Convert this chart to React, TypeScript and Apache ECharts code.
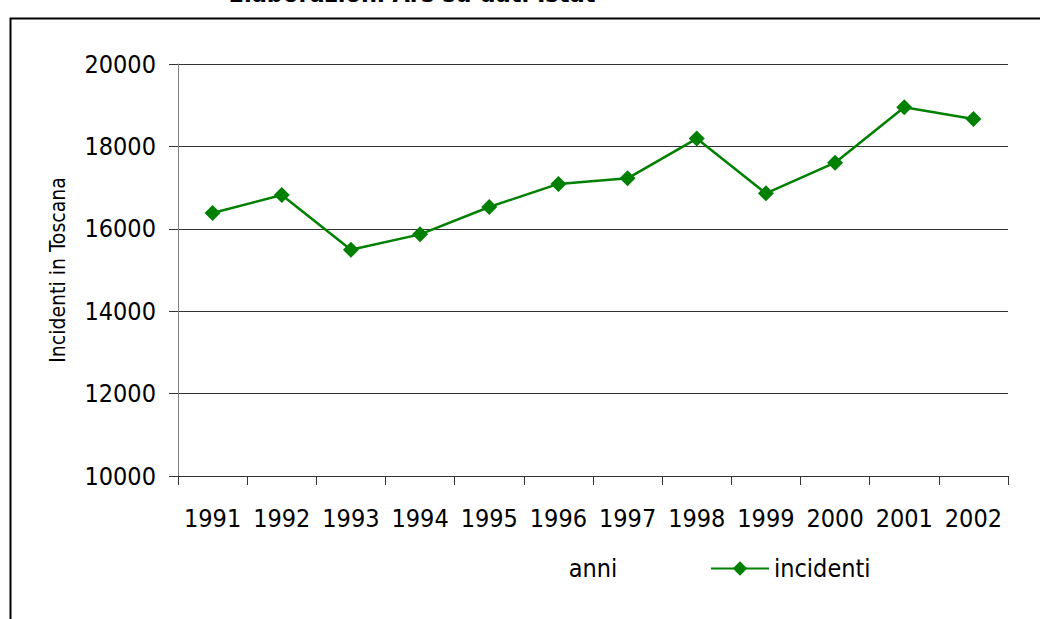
import React, { useEffect, useRef } from "react";
import * as echarts from "echarts";

const years = ["1991", "1992", "1993", "1994", "1995", "1996", "1997", "1998", "1999", "2000", "2001", "2002"];
const incidenti = [16385, 16820, 15490, 15865, 16530, 17090, 17225, 18190, 16860, 17605, 18950, 18665];
const yTicks = { min: 10000, max: 20000, interval: 2000 };
const titleText = "Elaborazioni Ars su dati Istat";
const yName = "Incidenti in Toscana";
const xName = "anni";
const seriesName = "incidenti";

const FONT = "'DejaVu Sans Condensed', 'Liberation Sans', sans-serif";

export default function App() {
  const ref = useRef<HTMLDivElement>(null);
  useEffect(() => {
    const chart = echarts.init(ref.current!, null, { renderer: "svg" });
    chart.setOption({
      animation: false,
      backgroundColor: "#ffffff",
      textStyle: { fontFamily: FONT },
      graphic: [
        {
          type: "rect",
          left: 8,
          top: 16,
          shape: { x: 0, y: 0, width: 1100, height: 700 },
          style: { fill: "none", stroke: "#000", lineWidth: 2 },
          silent: true,
          z: -10,
        },
        {
          type: "text",
          x: 412,
          y: 6,
          style: {
            text: titleText,
            fontFamily: FONT,
            fontWeight: "bold",
            fontSize: 25,
            fill: "#000",
            align: "center",
            verticalAlign: "bottom",
          },
        },
      ],
      grid: { left: 178, right: 32, top: 64, bottom: 143, containLabel: false },
      legend: {
        left: 705,
        top: 551,
        itemWidth: 58,
        itemHeight: 18,
        itemGap: 6,
        textStyle: { fontSize: 25, color: "#000", fontFamily: FONT },
        data: [seriesName],
      },
      xAxis: {
        type: "category",
        data: years,
        boundaryGap: true,
        name: xName,
        nameLocation: "middle",
        nameGap: 80,
        nameTextStyle: { fontSize: 25, color: "#000", fontFamily: FONT },
        axisLine: { lineStyle: { color: "#333", width: 1 } },
        axisTick: { show: true, length: 9, lineStyle: { color: "#333" } },
        axisLabel: { fontSize: 25, color: "#000", margin: 30, fontFamily: FONT, interval: 0 },
        splitLine: { show: false },
      },
      yAxis: {
        type: "value",
        min: yTicks.min,
        max: yTicks.max,
        interval: yTicks.interval,
        name: yName,
        nameLocation: "middle",
        nameGap: 110,
        nameRotate: 90,
        nameTextStyle: { fontSize: 21, color: "#000", fontFamily: FONT },
        axisLine: { show: true, lineStyle: { color: "#808080", width: 1 } },
        axisTick: { show: true, length: 9, lineStyle: { color: "#333" } },
        axisLabel: {
          fontSize: 25,
          color: "#000",
          margin: 22,
          fontFamily: FONT,
          formatter: (v: number) => String(v),
        },
        splitLine: { show: true, lineStyle: { color: "#333", width: 1 } },
      },
      series: [
        {
          name: seriesName,
          type: "line",
          data: incidenti,
          symbol: "diamond",
          symbolSize: 16,
          itemStyle: { color: "#008000" },
          lineStyle: { color: "#008000", width: 2.5 },
        },
      ],
    });
    return () => chart.dispose();
  }, []);
  return (
    <div
      ref={ref}
      style={{ position: "fixed", left: 0, top: 0, width: 1040, height: 619 }}
    />
  );
}
